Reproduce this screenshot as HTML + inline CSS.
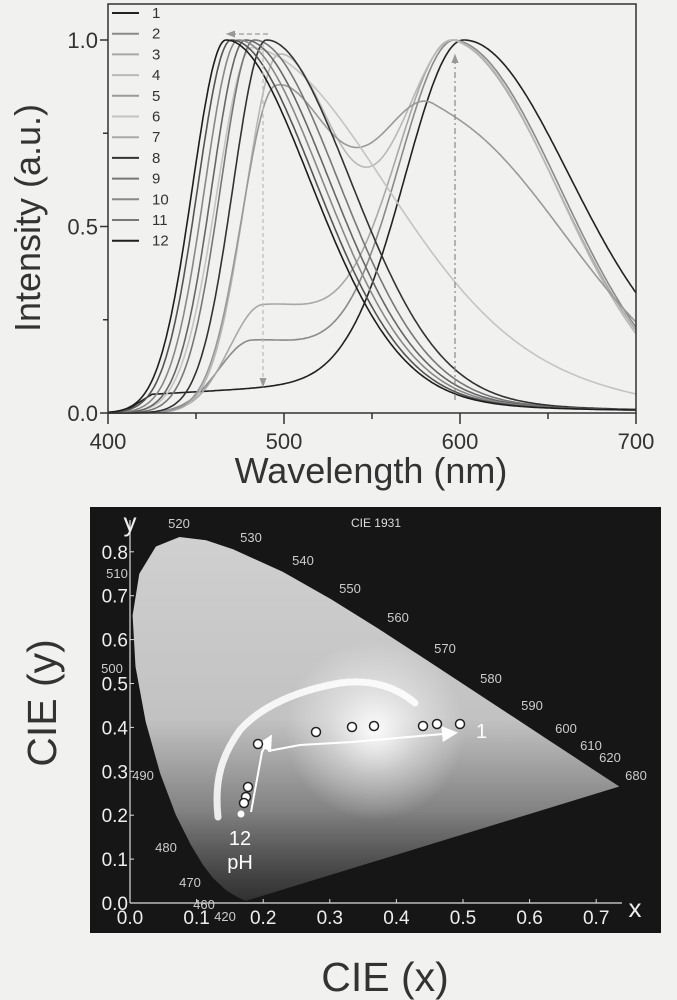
<!DOCTYPE html>
<html><head><meta charset="utf-8"><style>
html,body{margin:0;padding:0;background:#f1f1ef;}
svg{display:block;font-family:"Liberation Sans",sans-serif;}
</style></head><body>
<svg id="s" width="677" height="1000" viewBox="0 0 677 1000" xmlns="http://www.w3.org/2000/svg">
<defs>
<linearGradient id="gv" x1="0" y1="0" x2="0" y2="1">
<stop offset="0" stop-color="#d0d0d0"/><stop offset="0.5" stop-color="#c2c2c2"/><stop offset="0.72" stop-color="#8a8a8a"/><stop offset="1" stop-color="#4a4a4a"/>
</linearGradient>
<radialGradient id="gr" cx="375" cy="730" r="90" gradientUnits="userSpaceOnUse">
<stop offset="0" stop-color="#ffffff" stop-opacity="0.95"/><stop offset="0.5" stop-color="#ffffff" stop-opacity="0.4"/><stop offset="1" stop-color="#ffffff" stop-opacity="0"/>
</radialGradient>
<linearGradient id="gb" x1="0" y1="0" x2="0" y2="1">
<stop offset="0.75" stop-color="#000" stop-opacity="0"/><stop offset="1" stop-color="#000" stop-opacity="0.35"/>
</linearGradient>
<marker id="ah" markerWidth="8" markerHeight="8" refX="6" refY="4" orient="auto"><path d="M0,0 L8,4 L0,8 z" fill="#fff"/></marker>
<marker id="ag" markerWidth="8" markerHeight="8" refX="6" refY="4" orient="auto"><path d="M0,1 L8,4 L0,7 z" fill="#999"/></marker>
</defs>
<g id="top"></g>
<g id="bot"></g>
</svg>
<script>
var NS="http://www.w3.org/2000/svg";
function el(p,t,a,txt){var e=document.createElementNS(NS,t);for(var k in a)e.setAttribute(k,a[k]);if(txt!=null)e.textContent=txt;p.appendChild(e);return e;}
var T=document.getElementById('top'),B=document.getElementById('bot');
function X(l){return 108+(l-400)*528/300;}
function Y(v){return 413-v*373;}
function g(d,s){return Math.exp(-d*d/(2*s*s));}
function blue(l,p,rs){var d=l-p;if(d<0)return g(d,19);rs=rs||50;return 0.85*g(d,rs)+0.15/(1+(d/55)*(d/55));}
function orange(l,p,ls,rs){var d=l-p;return d<0?g(d,ls||33):g(d,rs||60);}
var curves=[
 ["#222",1,function(l){var b=l<425?0.05*Math.max(0,(l-408)/17):0.05+0.03*Math.min(1,(l-425)/110);return b*(1-orange(l,602))+orange(l,602);}],
 ["#8a8a8a",1,function(l){return 0.2*blue(l,482,60)+orange(l,598);}],
 ["#a8a8a8",1,function(l){return 0.3*blue(l,488,55)+orange(l,597);}],
 ["#b8b8b8",1,function(l){return blue(l,497,35)+orange(l,598,33,58);}],
 ["#999",0.88,function(l){return 0.88*blue(l,495,36)+0.78*orange(l,585,33,75);}],
 ["#c4c4c4",0.98,function(l){var d=l-482;if(d<0)return g(d,20);return 0.82*g(d,75)+0.18*Math.max(0,1-d/280);}],
 ["#777",1,function(l){return blue(l,483);}],
 ["#333",1,function(l){return blue(l,490);}],
 ["#666",1,function(l){return blue(l,478);}],
 ["#888",1,function(l){return blue(l,474);}],
 ["#555",1,function(l){return blue(l,470);}],
 ["#1e1e1e",1,function(l){return blue(l,467);}]
];
curves.forEach(function(c){var vals=[],m=0;for(var l=400;l<=700;l++){var v=c[2](l);vals.push(v);if(v>m)m=v;}
 var d="";vals.forEach(function(v,i){d+=(i?"L":"M")+X(400+i).toFixed(1)+","+Y(v/m*c[1]).toFixed(1);});
 el(T,"path",{d:d,fill:"none",stroke:c[0],"stroke-width":1.6});});
el(T,"rect",{x:108,y:4,width:528,height:409,fill:"none",stroke:"#333","stroke-width":1.5});
el(T,"line",{x1:263,y1:44,x2:263,y2:385,stroke:"#bbb","stroke-width":1.2,"stroke-dasharray":"4,3","marker-end":"url(#ag)"});
el(T,"line",{x1:268,y1:34,x2:228,y2:34,stroke:"#999","stroke-width":1.2,"stroke-dasharray":"5,3","marker-end":"url(#ag)"});
el(T,"line",{x1:455,y1:400,x2:455,y2:56,stroke:"#888","stroke-width":1.2,"stroke-dasharray":"6,3,2,3","marker-end":"url(#ag)"});
[[0,1],[0.25,0],[0.5,1],[0.75,0],[1,1]].forEach(function(t){el(T,"line",{x1:t[1]?100:103,y1:Y(t[0]),x2:108,y2:Y(t[0]),stroke:"#333","stroke-width":1.5});});
[400,450,500,550,600,650,700].forEach(function(w,i){el(T,"line",{x1:X(w),y1:413,x2:X(w),y2:413+(i%2?6:11),stroke:"#333","stroke-width":1.5});
 if(i%2==0)el(T,"text",{x:X(w),y:449,"text-anchor":"middle","font-size":22,fill:"#333"},String(w));});
[["1.0",1],["0.5",0.5],["0.0",0]].forEach(function(t){el(T,"text",{x:98,y:Y(t[1])+8,"text-anchor":"end","font-size":22,fill:"#333"},t[0]);});
el(T,"text",{x:0,y:0,transform:"translate(40,218) rotate(-90)","text-anchor":"middle","font-size":36,fill:"#333"},"Intensity (a.u.)");
el(T,"text",{x:371,y:483,"text-anchor":"middle","font-size":36,fill:"#333"},"Wavelength (nm)");
var lc=["#222","#8a8a8a","#a8a8a8","#b8b8b8","#999","#c4c4c4","#aaa","#333","#777","#888","#777","#1e1e1e"];
for(var i=0;i<12;i++){var yy=13+i*20.7;el(T,"line",{x1:112,y1:yy,x2:139,y2:yy,stroke:lc[i],"stroke-width":2});
 el(T,"text",{x:152,y:yy+5,"font-size":15,fill:"#333"},String(i+1));}
el(B,"rect",{x:90,y:507,width:571,height:426,fill:"#161616"});
function P(x,y){return [130+x*666,903-y*439];}
var loc=[[0.1741,0.005],[0.1644,0.0109],[0.1566,0.0177],[0.144,0.0297],[0.1241,0.0578],[0.1096,0.0868],[0.0913,0.1327],[0.0687,0.2007],[0.0454,0.295],[0.0235,0.4127],[0.0082,0.5384],[0.0039,0.6548],[0.0139,0.7502],[0.0389,0.812],[0.0743,0.8338],[0.1142,0.8262],[0.1547,0.8059],[0.2296,0.7543],[0.3016,0.6923],[0.3731,0.6245],[0.4441,0.5547],[0.5125,0.4866],[0.5752,0.4242],[0.627,0.3725],[0.6658,0.334],[0.6915,0.3083],[0.719,0.2809],[0.7347,0.2653]];
var pd="";loc.forEach(function(q,i){var p=P(q[0],q[1]);pd+=(i?"L":"M")+p[0].toFixed(1)+","+p[1].toFixed(1);});pd+="Z";
el(B,"path",{d:pd,fill:"url(#gv)"});
el(B,"path",{d:pd,fill:"url(#gr)"});
el(B,"path",{d:pd,fill:"url(#gb)"});
el(B,"line",{x1:130,y1:520,x2:130,y2:903,stroke:"#ddd","stroke-width":1.2});
el(B,"line",{x1:130,y1:903,x2:622,y2:903,stroke:"#ddd","stroke-width":1.2});
for(var k=0;k<=8;k++){var yy=903-k*43.9;el(B,"line",{x1:130,y1:yy,x2:134,y2:yy,stroke:"#ddd"});
 el(B,"text",{x:128,y:yy+7,"text-anchor":"end","font-size":19,fill:"#eee"},"0."+k);}
for(var k=0;k<=7;k++){var xx=130+k*66.6;el(B,"line",{x1:xx,y1:899,x2:xx,y2:903,stroke:"#ddd"});
 el(B,"text",{x:xx,y:924,"text-anchor":"middle","font-size":19,fill:"#eee"},"0."+k);}
el(B,"text",{x:130,y:531,"text-anchor":"middle","font-size":26,fill:"#eee"},"y");
el(B,"text",{x:635,y:917,"text-anchor":"middle","font-size":26,fill:"#eee"},"x");
el(B,"text",{x:376,y:527,"text-anchor":"middle","font-size":12,fill:"#ddd"},"CIE 1931");
var wl=[["520",179,523],["530",251,537],["540",303,560],["550",350,588],["560",398,617],["570",445,648],["580",491,678],["590",532,705],["600",566,728],["610",591,745],["620",610,757],["680",636,775],["510",117,573],["500",112,668],["490",143,775],["480",166,847],["470",190,882],["460",204,904],["420",225,916]];
wl.forEach(function(w){el(B,"text",{x:w[1],y:w[2]+5,"text-anchor":"middle","font-size":13,fill:"#ccc"},w[0]);});
el(B,"path",{d:"M218,817 C214,780 222,755 240,730 C262,705 300,690 340,683 C375,678 400,690 415,703",fill:"none",stroke:"#fff","stroke-width":7,"stroke-opacity":0.85,"stroke-linecap":"round"});
el(B,"path",{d:"M268,751 L300,745 L352,742 L454,733",fill:"none",stroke:"#fff","stroke-width":2,"marker-end":"url(#ah)"});
el(B,"path",{d:"M251,812 L262,752 L270,738",fill:"none",stroke:"#fff","stroke-width":2,"marker-end":"url(#ah)"});
[[258,744],[316,732],[352,727],[374,726],[423,726],[437,724],[460,724],[248,787],[246,797],[244,803]].forEach(function(p){el(B,"circle",{cx:p[0],cy:p[1],r:4.5,fill:"#fff",stroke:"#222","stroke-width":1.5});});
el(B,"circle",{cx:241,cy:814,r:3.5,fill:"#fff"});
el(B,"text",{x:476,y:738,"font-size":20,fill:"#fff"},"1");
el(B,"text",{x:240,y:845,"text-anchor":"middle","font-size":20,fill:"#fff"},"12");
el(B,"text",{x:240,y:869,"text-anchor":"middle","font-size":20,fill:"#fff"},"pH");
el(B,"text",{x:0,y:0,transform:"translate(56,703) rotate(-90)","text-anchor":"middle","font-size":41,fill:"#333"},"CIE (y)");
el(B,"text",{x:385,y:991,"text-anchor":"middle","font-size":41,fill:"#333"},"CIE (x)");
</script>
</body></html>
